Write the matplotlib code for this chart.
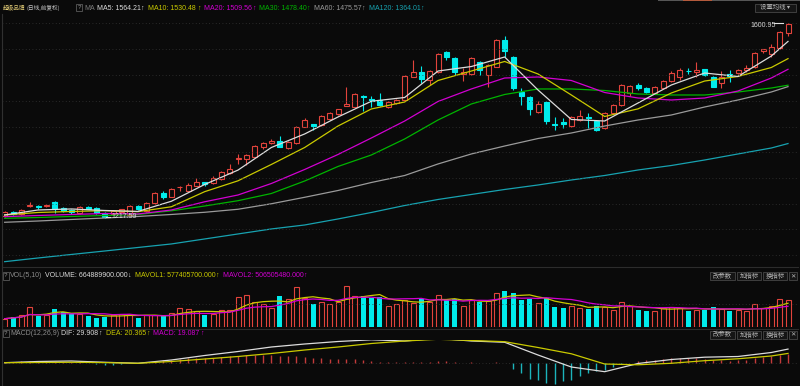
import numpy as np
import pandas as pd
import matplotlib
matplotlib.use('Agg')
import matplotlib.pyplot as plt
from matplotlib.patches import Rectangle
from matplotlib.lines import Line2D

plt.rcParams['font.family'] = ['Liberation Sans', 'Noto Sans CJK SC', 'DejaVu Sans']
CJK = ['Noto Sans CJK SC', 'DejaVu Sans']

# daily candles (price)
opens = [1222.0, 1230.5, 1225.4, 1241.6, 1241.6, 1240.7, 1248.9, 1237.1, 1233.8, 1227.3,
         1239.7, 1238.3, 1228.5, 1226.0, 1228.9, 1224.0, 1242.2, 1231.8, 1248.1, 1266.5,
         1259.9, 1277.9, 1271.6, 1281.4, 1288.1, 1286.1, 1294.0, 1305.7, 1333.2, 1333.2,
         1338.3, 1356.7, 1364.5, 1369.0, 1354.7, 1365.7, 1397.1, 1402.4, 1400.4, 1412.2,
         1421.4, 1438.2, 1436.3, 1457.8, 1451.4, 1449.4, 1435.1, 1444.1, 1449.4, 1495.1,
         1503.7, 1488.6, 1503.7, 1542.9, 1531.1, 1500.4, 1500.4, 1523.3, 1498.4, 1514.7,
         1567.0, 1534.3, 1465.1, 1454.7, 1425.3, 1446.1, 1402.4, 1405.7, 1398.4, 1410.2,
         1416.7, 1408.2, 1394.5, 1423.9, 1439.6, 1463.1, 1478.8, 1473.5, 1463.1, 1472.3,
         1487.2, 1495.1, 1507.2, 1504.9, 1509.6, 1495.1, 1483.3, 1499.4, 1501.7, 1508.2,
         1513.5, 1546.0, 1539.6, 1550.7, 1580.1]
closes = [1229.9, 1225.4, 1233.8, 1242.6, 1239.1, 1243.6, 1235.8, 1231.8, 1230.5, 1239.1,
          1236.4, 1228.5, 1220.7, 1230.9, 1234.8, 1241.6, 1235.8, 1246.9, 1266.5, 1259.9,
          1275.0, 1279.5, 1282.8, 1289.3, 1285.7, 1295.9, 1307.7, 1314.2, 1336.3, 1341.6,
          1359.2, 1364.5, 1369.6, 1357.9, 1366.5, 1397.1, 1410.2, 1398.4, 1418.0, 1423.9,
          1431.2, 1441.0, 1461.2, 1455.9, 1448.0, 1439.6, 1446.1, 1449.4, 1496.4, 1503.7,
          1490.6, 1506.8, 1539.6, 1533.1, 1504.9, 1504.9, 1531.1, 1508.2, 1518.0, 1567.0,
          1546.0, 1472.3, 1457.2, 1431.2, 1441.6, 1408.8, 1399.8, 1402.4, 1416.7, 1418.6,
          1413.5, 1390.6, 1423.9, 1439.6, 1478.8, 1476.8, 1472.9, 1465.1, 1474.9, 1487.2,
          1501.7, 1508.2, 1505.3, 1508.2, 1498.4, 1475.5, 1495.1, 1497.4, 1508.2, 1511.5,
          1540.9, 1548.8, 1552.7, 1583.3, 1599.3]
highs = [1231.8, 1231.8, 1235.8, 1250.1, 1243.6, 1245.6, 1250.5, 1238.7, 1234.8, 1240.7,
         1241.6, 1239.7, 1229.9, 1232.8, 1236.7, 1243.6, 1243.6, 1248.5, 1268.1, 1271.0,
         1276.9, 1280.8, 1286.1, 1295.9, 1288.7, 1300.4, 1309.3, 1324.0, 1343.0, 1343.6,
         1361.2, 1366.1, 1373.6, 1378.8, 1368.1, 1398.4, 1414.7, 1403.3, 1420.0, 1425.9,
         1432.7, 1475.5, 1463.1, 1459.2, 1457.2, 1463.7, 1447.4, 1451.4, 1498.4, 1527.8,
         1516.0, 1508.2, 1542.1, 1544.5, 1532.7, 1512.7, 1532.7, 1524.9, 1520.0, 1569.0,
         1574.8, 1535.6, 1472.3, 1456.3, 1447.4, 1447.4, 1415.5, 1414.7, 1418.0, 1429.8,
         1423.9, 1410.2, 1425.9, 1441.6, 1480.8, 1478.8, 1482.7, 1474.9, 1476.8, 1488.6,
         1506.2, 1512.7, 1511.5, 1524.5, 1511.1, 1496.4, 1506.2, 1508.2, 1510.2, 1518.0,
         1542.5, 1550.3, 1559.2, 1584.6, 1600.95]
lows = [1220.1, 1224.0, 1224.0, 1238.7, 1236.7, 1238.7, 1227.3, 1229.9, 1226.0, 1226.0,
        1234.8, 1226.9, 1217.59, 1224.0, 1226.9, 1222.0, 1233.8, 1229.9, 1246.5, 1254.8,
        1258.3, 1271.6, 1270.1, 1279.9, 1281.4, 1284.8, 1292.6, 1304.4, 1324.0, 1322.0,
        1336.7, 1352.8, 1363.2, 1356.3, 1353.4, 1364.1, 1395.5, 1390.6, 1398.4, 1410.2,
        1420.0, 1436.7, 1434.7, 1428.4, 1436.3, 1437.6, 1433.7, 1442.5, 1447.4, 1493.5,
        1483.3, 1478.8, 1502.3, 1527.8, 1498.4, 1486.6, 1498.4, 1498.4, 1475.5, 1513.1,
        1534.3, 1469.0, 1439.6, 1420.0, 1423.9, 1402.4, 1390.6, 1393.9, 1396.5, 1408.2,
        1393.9, 1388.6, 1392.6, 1422.0, 1437.6, 1457.2, 1469.0, 1463.1, 1461.2, 1471.0,
        1484.7, 1488.6, 1500.4, 1495.1, 1496.4, 1473.9, 1472.3, 1485.3, 1500.4, 1504.9,
        1512.1, 1540.9, 1534.3, 1549.4, 1574.8]

# volume, millions of shares
volumes = [197, 239, 278, 485, 263, 278, 443, 362, 303, 303,
           263, 221, 246, 278, 320, 320, 221, 278, 278, 263,
           344, 450, 426, 386, 288, 320, 411, 411, 731, 780,
           608, 549, 467, 755, 672, 977, 713, 566, 608, 566,
           615, 1001, 755, 755, 713, 731, 509, 566, 664, 590,
           689, 615, 787, 664, 689, 517, 664, 615, 640, 836,
           886, 836, 664, 689, 590, 713, 492, 467, 517, 467,
           443, 517, 492, 418, 615, 517, 418, 394, 394, 467,
           492, 467, 394, 418, 418, 492, 443, 394, 418, 394,
           560, 470, 520, 670, 664.89]

# moving averages and MACD lines, read at every 4th day
sample_idx = [0, 4, 8, 12, 16, 20, 24, 28, 32, 36, 40, 44, 48, 52, 56, 60,
              64, 68, 72, 76, 80, 84, 88, 92, 94]
ma5 = [1224.0, 1233.8, 1235.8, 1232.8, 1231.0, 1250.9, 1283.8, 1312.0, 1356.3, 1382.8,
       1416.1, 1446.9, 1454.3, 1506.2, 1515.0, 1533.7, 1469.0, 1411.2, 1408.2, 1443.5,
       1478.8, 1502.3, 1495.5, 1535.6, 1564.21]
ma10 = [1224.0, 1228.9, 1230.9, 1232.4, 1230.5, 1240.1, 1269.7, 1291.0, 1323.0, 1356.3,
        1398.4, 1431.8, 1445.5, 1487.6, 1506.2, 1524.9, 1500.4, 1459.2, 1417.1, 1432.0,
        1463.1, 1486.6, 1495.5, 1513.1, 1530.48]
ma20 = [1220.7, 1223.0, 1225.0, 1226.9, 1226.0, 1233.8, 1249.9, 1263.2, 1285.7, 1313.2,
        1342.6, 1374.9, 1408.2, 1446.5, 1471.0, 1492.5, 1494.5, 1487.6, 1464.1, 1453.3,
        1449.4, 1453.3, 1467.0, 1492.5, 1509.56]
ma30 = [1217.5, 1219.1, 1221.1, 1223.0, 1225.0, 1232.2, 1241.6, 1252.0, 1266.1, 1290.6,
        1319.1, 1341.6, 1373.0, 1410.2, 1441.6, 1460.2, 1471.0, 1471.0, 1468.0, 1461.2,
        1459.2, 1459.2, 1465.1, 1472.9, 1478.40]
ma60 = [1209.7, 1212.2, 1215.2, 1218.1, 1221.1, 1225.0, 1229.3, 1235.2, 1246.0, 1258.7,
        1272.0, 1287.7, 1301.4, 1324.0, 1343.6, 1359.2, 1373.9, 1384.7, 1398.4, 1410.2,
        1420.0, 1435.7, 1449.4, 1465.1, 1475.57]
ma120 = [1132.5, 1139.7, 1146.6, 1153.4, 1160.3, 1167.2, 1177.0, 1186.8, 1196.6, 1204.4,
         1216.2, 1228.9, 1242.6, 1254.4, 1264.2, 1274.0, 1282.8, 1292.6, 1301.4, 1312.2,
         1321.0, 1331.8, 1343.6, 1355.3, 1364.01]
dif = [0.0, 2.6, 3.7, 0.9, -1.3, 5.9, 15.8, 24.6, 34.5, 41.1, 46.6, 50.4, 47.7, 53.7,
       47.7, 44.9, 16.9, -9.5, -19.8, -1.8, 7.0, 12.1, 13.6, 22.4, 29.908]
dea = [0.0, 0.4, 0.9, 0.2, -1.3, 2.6, 8.1, 13.6, 20.2, 27.9, 34.5, 42.2, 47.7, 51.5,
       48.8, 46.2, 33.4, 19.6, -2.9, -4.6, -1.3, 4.4, 8.6, 14.7, 20.365]
macd = [1.5, 1.5, 2.9, 2.9, 2.2, 2.9, 2.2, 1.1, 0.7, 0.7,
        -0.7, -2.2, -4.4, -5.1, -2.9, -1.1, -0.7, 1.5, 3.7, 5.1,
        6.6, 8.1, 9.5, 10.3, 9.5, 11.0, 12.5, 13.9, 15.4, 16.9,
        17.6, 16.1, 16.9, 15.4, 13.9, 14.7, 12.5, 11.0, 10.3, 8.8,
        8.1, 7.3, 7.3, 5.1, 3.7, 2.2, 1.5, 0.7, 1.5, 1.5,
        0.7, 1.5, 3.7, 2.9, 0.7, -0.7, 0.7, -1.5, -1.5, 0.7,
        -0.7, -13.2, -22.0, -35.2, -37.4, -44.0, -46.2, -40.7, -37.4, -29.7,
        -23.1, -18.7, -15.4, -8.8, -3.3, -1.1, 3.3, 5.5, 6.6, 8.8,
        9.9, 11.0, 9.9, 11.0, 8.8, 5.5, 5.5, 4.4, 5.5, 6.6,
        9.9, 12.1, 14.3, 17.6, 19.087]

W, H = 800, 386
BG = '#0a0a0a'
UP = '#e2433c'
DOWN = '#00ecec'
WHITE = '#dcdcdc'
YEL = '#caca00'
MAG = '#d200d2'
GRN = '#00b400'
GRAY = '#9a9a9a'
TEAL = '#17a2b0'

fig = plt.figure(figsize=(W / 100, H / 100), dpi=100, facecolor=BG)


def panel(top, bottom):
    ax = fig.add_axes([2 / W, 1 - bottom / H, 796 / W, (bottom - top) / H])
    ax.set_facecolor(BG)
    ax.set_xlim(-0.32, 95.2)
    ax.set_xticks([])
    ax.set_yticks([])
    for s in ax.spines.values():
        s.set_visible(False)
    return ax


def hline(y, x0=2, x1=798, color='#343434', ls=(0, (1, 3)), lw=0.6):
    fig.add_artist(Line2D([x0 / W, x1 / W], [1 - y / H, 1 - y / H], color=color,
                          ls=ls, lw=lw, transform=fig.transFigure))


def txt(x, y, s, color, size=5, ha='left', family=None):
    kw = {'family': family} if family else {}
    fig.text(x / W, 1 - y / H, s, color=color, fontsize=size, ha=ha, va='center', **kw)


def button(x0, x1, y0, y1, label, size=4.6):
    fig.patches.append(Rectangle((x0 / W, 1 - y1 / H), (x1 - x0) / W, (y1 - y0) / H,
                                 transform=fig.transFigure, facecolor='#151515',
                                 edgecolor='#474747', lw=0.6))
    txt((x0 + x1) / 2, (y0 + y1) / 2, label, '#b4b4b4', size=size, ha='center', family=CJK)


ax = panel(15, 266)
axv = panel(282, 326.7)
axm = panel(340, 386)

# grid and frame lines
for gy in [23, 49, 75, 100.7, 126.7, 152.3, 178, 203.5, 229.3, 255]:
    hline(gy)
hline(304)
hline(267, color='#2c2c2c', ls='-', lw=0.8)
hline(328.5, color='#2c2c2c', ls='-', lw=0.8)
fig.add_artist(Line2D([1.5 / W, 1.5 / W], [0, 1 - 14 / H], color='#303030', lw=0.8,
                      transform=fig.transFigure))

# candles
x = np.arange(len(closes))
o, h, l, c = map(np.array, (opens, highs, lows, closes))
up = c >= o
cols = np.where(up, UP, DOWN)
ax.vlines(x, l, h, colors=cols, lw=0.8, zorder=2)
for i in x:
    ax.add_patch(Rectangle((i - 0.3, min(o[i], c[i])), 0.6, max(abs(c[i] - o[i]), 0.6),
                           facecolor=BG if up[i] else DOWN, edgecolor=cols[i],
                           lw=0.8, zorder=3))

for vals, colr in [(ma120, TEAL), (ma60, GRAY), (ma30, GRN), (ma20, MAG),
                   (ma10, YEL), (ma5, WHITE)]:
    ax.plot(sample_idx, vals, color=colr, lw=0.9, zorder=4)
ax.set_ylim(1124.0, 1616.0)

# volume
v = np.array(volumes, dtype=float)
axv.bar(x[up], v[up], width=0.6, facecolor=BG, edgecolor=UP, lw=0.8)
axv.bar(x[~up], v[~up], width=0.6, color=DOWN)
mavol1 = pd.Series(v).rolling(5, min_periods=1).mean()
mavol2 = pd.Series(v).rolling(10, min_periods=1).mean()
axv.plot(x, mavol1, color=YEL, lw=0.9)
axv.plot(x, mavol2, color=MAG, lw=0.9)
axv.set_ylim(0, 1100)

# MACD
m = np.array(macd)
axm.vlines(x, 0, m, colors=np.where(m >= 0, '#c43a3a', '#1cb4bc'), lw=1.0)
axm.axhline(0, color='#343434', ls=(0, (1, 3)), lw=0.6)
axm.plot(sample_idx, dif, color=WHITE, lw=0.9)
axm.plot(sample_idx, dea, color=YEL, lw=0.9)
axm.set_ylim(-51.3, 49.9)

# high / low markers
txt(750, 25.5, '1600.95', '#d8d8d8')
hline(23.3, 774, 783, color='#e0e0e0', ls='-', lw=0.8)
txt(111, 216.8, '1217.59', '#d8d8d8')
hline(216.8, 106, 110, color='#e0e0e0', ls='-', lw=0.8)


# headers
def qbox(x0, y):
    fig.patches.append(Rectangle((x0 / W, 1 - (y + 3.8) / H), 6 / W, 7.6 / H,
                                 transform=fig.transFigure, facecolor=BG,
                                 edgecolor='#5a5a5a', lw=0.6))
    txt(x0 + 3, y, '?', '#9a9a9a', size=4.5, ha='center')


txt(2.5, 8, '超级品牌', '#e6cf78', size=4.1, family=CJK)
txt(26.5, 8, '(日线,前复权)', '#c4c4c4', size=4.1, family=CJK)
qbox(76, 7.5)
txt(84, 8, 'MA', '#7c7c7c')
for xs, s, colr, xa in [(97, 'MA5: 1564.21', WHITE, 140), (148, 'MA10: 1530.48', YEL, 197),
                        (204, 'MA20: 1509.56', MAG, 252), (259, 'MA30: 1478.40', GRN, 306),
                        (314, 'MA60: 1475.57', GRAY, 361), (369, 'MA120: 1364.01', TEAL, 420)]:
    txt(xs, 8, s, colr)
    txt(xa, 8, '↑', colr)

qbox(2.5, 275.7)
txt(10, 275.7, 'VOL(5,10)', '#8c8c8c')
txt(45, 275.7, 'VOLUME: 664889900.000', WHITE)
txt(127, 275.7, '↓', WHITE)
txt(135, 275.7, 'MAVOL1: 577405700.000', YEL)
txt(215, 275.7, '↑', YEL)
txt(223, 275.7, 'MAVOL2: 506505480.000', MAG)
txt(303, 275.7, '↑', MAG)

qbox(2.5, 333.3)
txt(10, 333.3, 'MACD(12,26,9)', '#8c8c8c')
txt(61, 333.3, 'DIF: 29.908', WHITE)
txt(98, 333.3, '↑', WHITE)
txt(106, 333.3, 'DEA: 20.365', YEL)
txt(146, 333.3, '↑', YEL)
txt(153, 333.3, 'MACD: 19.087', MAG)
txt(200, 333.3, '↑', MAG)

# buttons
button(755, 796, 3.5, 11.5, '设置均线 ▾')
for yy in [(272, 280), (330.5, 338.5)]:
    button(710, 735, yy[0], yy[1], '改参数')
    button(737, 761, yy[0], yy[1], '加指标')
    button(763, 787, yy[0], yy[1], '换指标')
    button(789, 797, yy[0], yy[1], '✕')

# top toolbar strip
for x0, x1, colr in [(658, 683, '#565656'), (683, 712, '#b45a3c'), (712, 800, '#565656')]:
    fig.patches.append(Rectangle((x0 / W, 1 - 1.3 / H), (x1 - x0) / W, 1.3 / H,
                                 transform=fig.transFigure, facecolor=colr, lw=0))

fig.savefig('out.png', dpi=100, facecolor=BG)
